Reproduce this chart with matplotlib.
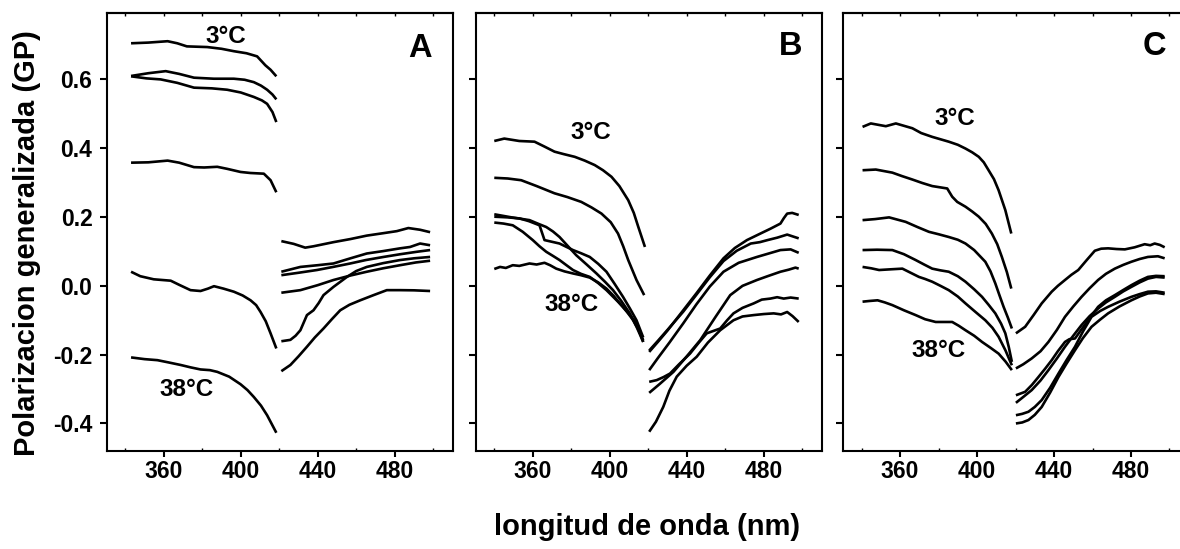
import matplotlib.pyplot as plt
import numpy as np

plt.rcParams['font.family'] = ['Liberation Sans', 'DejaVu Sans']
plt.rcParams['font.weight'] = 'bold'
plt.rcParams['axes.unicode_minus'] = False

# ---- datos (nm, GP) ----
# Panel A, 340-418 nm
A_l1_x = [343, 352, 362, 367, 372, 382.6, 390, 396.4, 403, 408.5, 412.8, 415.5, 418.5]
A_l1_y = [0.705, 0.707, 0.711, 0.705, 0.696, 0.694, 0.689, 0.682, 0.676, 0.667, 0.641, 0.628, 0.609]
A_l2_x = [343, 352, 361.0, 368, 375.7, 386, 396.4, 402, 406.8, 410.5, 413.7, 416.5, 418.5]
A_l2_y = [0.610, 0.618, 0.624, 0.616, 0.605, 0.602, 0.602, 0.599, 0.592, 0.582, 0.570, 0.556, 0.542]
A_l3_x = [343, 351, 358.4, 367, 375.7, 385, 392.9, 400, 406.8, 411, 413.7, 416.5, 418.5]
A_l3_y = [0.609, 0.603, 0.600, 0.590, 0.576, 0.574, 0.570, 0.562, 0.549, 0.539, 0.529, 0.505, 0.476]
A_l4_x = [343, 352, 362, 368, 375.7, 381, 387.8, 393, 399.9, 405, 412.0, 415.5, 418.5]
A_l4_y = [0.358, 0.359, 0.364, 0.358, 0.345, 0.344, 0.346, 0.340, 0.331, 0.328, 0.326, 0.307, 0.272]
A_l5_x = [343, 347.8, 354.8, 363.6, 368, 373.9, 379.1, 383, 386.1, 391, 396.4, 401, 405.1, 408, 410.3, 413, 415.5, 418.5]
A_l5_y = [0.041, 0.028, 0.019, 0.015, 0.003, -0.0125, -0.015, -0.008, -0.001, -0.008, -0.017, -0.028, -0.042, -0.056, -0.076, -0.103, -0.138, -0.182]
A_l6_x = [343, 350, 356.7, 362, 368.8, 374, 379.1, 384, 387.8, 394, 399.9, 403.5, 406.8, 410.5, 413.7, 418.5]
A_l6_y = [-0.208, -0.213, -0.216, -0.222, -0.230, -0.237, -0.243, -0.245, -0.250, -0.264, -0.286, -0.303, -0.323, -0.348, -0.376, -0.427]
# Panel A, 420-500 nm
A_r1_x = [421.1, 427.5, 433.5, 437.8, 448.2, 457, 465.5, 474, 481.1, 487.1, 493.2, 498.4]
A_r1_y = [0.130, 0.122, 0.111, 0.115, 0.127, 0.136, 0.146, 0.153, 0.159, 0.168, 0.163, 0.156]
A_r2_x = [421.1, 431.0, 440, 448.2, 457, 465.5, 474, 482.8, 488, 493.2, 498.4]
A_r2_y = [0.041, 0.055, 0.060, 0.065, 0.080, 0.094, 0.101, 0.109, 0.113, 0.123, 0.118]
A_r3_x = [421.1, 430, 439.6, 448, 456.9, 465, 474.2, 483, 491.5, 498.4]
A_r3_y = [0.031, 0.038, 0.046, 0.055, 0.065, 0.075, 0.084, 0.092, 0.099, 0.104]
A_r4_x = [421.1, 425.8, 428.5, 431.0, 434.4, 437.8, 440.5, 443.0, 448.2, 455.2, 460, 465.5, 474, 482.8, 490, 498.4]
A_r4_y = [-0.161, -0.157, -0.145, -0.129, -0.085, -0.071, -0.050, -0.027, -0.003, 0.026, 0.043, 0.055, 0.066, 0.075, 0.080, 0.084]
A_r5_x = [421.1, 431.0, 440, 448.2, 457, 465.5, 474, 482.8, 491, 498.4]
A_r5_y = [-0.020, -0.0125, 0.002, 0.017, 0.030, 0.041, 0.051, 0.060, 0.068, 0.073]
A_r6_x = [421.1, 425.8, 430, 434.4, 438.5, 443.0, 447.5, 451.7, 456.5, 462.1, 469, 475.9, 482.8, 490, 498.4]
A_r6_y = [-0.248, -0.230, -0.205, -0.177, -0.150, -0.124, -0.096, -0.071, -0.055, -0.042, -0.027, -0.0125, -0.0125, -0.013, -0.015]

# Panel B, 340-418 nm
B_l1_x = [340, 345.2, 353, 360.9, 366, 371.3, 376, 381.8, 387, 392.2, 396.5, 400.9, 405, 409.6, 412.5, 414.8, 418.3]
B_l1_y = [0.421, 0.428, 0.421, 0.419, 0.405, 0.390, 0.383, 0.375, 0.364, 0.351, 0.336, 0.317, 0.290, 0.249, 0.212, 0.172, 0.113]
B_l2_x = [340, 347, 354.0, 362, 371.3, 378, 385.2, 390.5, 395.7, 400.5, 404.3, 407, 409.6, 413.9, 417.9]
B_l2_y = [0.314, 0.312, 0.307, 0.290, 0.269, 0.258, 0.244, 0.228, 0.210, 0.185, 0.152, 0.115, 0.075, 0.017, -0.027]
B_l3_x = [340, 349, 358.3, 363, 367.0, 370.5, 373.9, 378, 382.6, 388, 393.1, 397.5, 401.7, 406, 410.4, 414, 417.4]
B_l3_y = [0.208, 0.199, 0.191, 0.180, 0.171, 0.158, 0.142, 0.117, 0.089, 0.062, 0.036, 0.012, -0.0125, -0.044, -0.080, -0.120, -0.163]
B_l4_x = [340, 347, 353.1, 358, 363.5, 366.1, 370, 373.9, 380.9, 385, 389.6, 394, 398.3, 402.5, 406.9, 410.5, 413.9, 417.4]
B_l4_y = [0.201, 0.199, 0.196, 0.188, 0.176, 0.133, 0.128, 0.123, 0.104, 0.095, 0.084, 0.064, 0.041, 0.006, -0.032, -0.066, -0.100, -0.150]
B_l5_x = [340, 344.8, 349.6, 354.8, 360, 363.5, 367.0, 370.5, 373.9, 377.5, 380.9, 385, 389.6, 394, 398.3, 402.5, 406.9, 410.5, 413.9, 417.4]
B_l5_y = [0.184, 0.181, 0.176, 0.157, 0.133, 0.115, 0.099, 0.087, 0.075, 0.060, 0.046, 0.035, 0.026, 0.008, -0.0125, -0.036, -0.061, -0.085, -0.109, -0.163]
B_l6_x = [340, 343, 346, 349.6, 353, 358.3, 362, 366.1, 369, 372.2, 376.5, 380.9, 385, 389.6, 394, 398.3, 402, 405.2, 409, 412.2, 415, 417.4]
B_l6_y = [0.049, 0.055, 0.052, 0.060, 0.058, 0.065, 0.062, 0.067, 0.060, 0.050, 0.042, 0.036, 0.031, 0.024, 0.010, -0.008, -0.029, -0.051, -0.076, -0.100, -0.128, -0.158]
# Panel B, 420-500 nm
B_r1_x = [420.5, 425, 430, 438.2, 445, 452, 459.1, 465, 471.3, 478.3, 483.5, 488.7, 490.5, 492.2, 494.8, 498.2]
B_r1_y = [-0.192, -0.163, -0.130, -0.071, -0.022, 0.030, 0.080, 0.110, 0.133, 0.152, 0.166, 0.181, 0.197, 0.210, 0.212, 0.206]
B_r2_x = [420.5, 425, 430, 438.2, 445, 452, 459.1, 466, 473.3, 478, 482.0, 487, 492.2, 498.2]
B_r2_y = [-0.188, -0.160, -0.128, -0.075, -0.026, 0.025, 0.072, 0.102, 0.123, 0.127, 0.133, 0.140, 0.149, 0.138]
B_r3_x = [420.5, 425, 431, 438.2, 445, 452, 459.1, 467, 476.5, 482, 488.7, 494, 498.2]
B_r3_y = [-0.245, -0.210, -0.165, -0.109, -0.054, -0.002, 0.041, 0.067, 0.084, 0.093, 0.104, 0.106, 0.096]
B_r4_x = [420.5, 424.4, 428, 431.3, 436, 441.7, 446, 450.4, 457.4, 461, 464.3, 469, 474.8, 479, 483.5, 487, 490.4, 494, 498.2]
B_r4_y = [-0.279, -0.274, -0.265, -0.255, -0.228, -0.197, -0.167, -0.138, -0.124, -0.100, -0.080, -0.064, -0.051, -0.040, -0.037, -0.033, -0.037, -0.034, -0.037]
B_r5_x = [420.5, 426, 433.1, 440, 447.0, 455, 462.6, 469, 476.5, 482, 488.7, 493, 496.5, 498.2]
B_r5_y = [-0.311, -0.285, -0.250, -0.205, -0.158, -0.090, -0.027, 0.000, 0.017, 0.028, 0.041, 0.047, 0.053, 0.050]
B_r6_x = [420.5, 424, 427.8, 431, 434.8, 440, 445.2, 451, 457.4, 464.3, 469, 474.8, 480, 485.2, 489, 492.2, 495, 498.2]
B_r6_y = [-0.424, -0.395, -0.352, -0.305, -0.264, -0.232, -0.206, -0.165, -0.129, -0.100, -0.089, -0.085, -0.082, -0.080, -0.083, -0.076, -0.088, -0.105]

# Panel C, 340-418 nm
C_l1_x = [340.5, 344.8, 352.6, 357.8, 366.4, 371, 376.7, 385.3, 390, 394.0, 397.5, 400.9, 403.5, 406.0, 408.8, 411.2, 414.7, 417.8]
C_l1_y = [0.462, 0.472, 0.464, 0.472, 0.458, 0.444, 0.433, 0.419, 0.410, 0.399, 0.388, 0.375, 0.359, 0.336, 0.310, 0.278, 0.220, 0.152]
C_l2_x = [340.5, 347.4, 356.0, 361, 366.4, 371.5, 376.7, 384.5, 387.1, 389.7, 394.0, 397.5, 400.9, 404.5, 407.7, 410.5, 412.9, 415.5, 417.8]
C_l2_y = [0.336, 0.338, 0.329, 0.319, 0.309, 0.299, 0.290, 0.283, 0.259, 0.244, 0.230, 0.216, 0.201, 0.180, 0.152, 0.121, 0.084, 0.040, -0.008]
C_l3_x = [340.5, 347, 354.3, 362.9, 369, 375.0, 380, 385.3, 390, 394.0, 398.5, 402.6, 404.3, 407, 409.5, 411.5, 413.8, 416, 418.1]
C_l3_y = [0.191, 0.194, 0.199, 0.186, 0.171, 0.157, 0.150, 0.142, 0.134, 0.123, 0.104, 0.080, 0.070, 0.042, 0.007, -0.025, -0.061, -0.092, -0.124]
C_l4_x = [340.5, 348, 356.0, 362, 368.1, 372.5, 376.7, 381, 385.3, 390, 394.0, 398.5, 402.6, 406, 409.5, 412.5, 414.7, 416.5, 418.1]
C_l4_y = [0.104, 0.105, 0.104, 0.092, 0.075, 0.062, 0.050, 0.045, 0.041, 0.028, 0.012, -0.010, -0.032, -0.055, -0.080, -0.110, -0.138, -0.178, -0.221]
C_l5_x = [340.5, 345, 349.1, 355, 361.2, 365.5, 369.8, 373, 376.7, 381, 385.3, 390, 394.0, 399, 404.3, 408, 411.2, 414.8, 418.1]
C_l5_y = [0.055, 0.051, 0.046, 0.048, 0.050, 0.038, 0.026, 0.020, 0.012, 0.000, -0.0125, -0.031, -0.051, -0.075, -0.100, -0.122, -0.148, -0.188, -0.231]
C_l6_x = [340.5, 344, 348.3, 352, 356.0, 362, 368.1, 373, 378.5, 383, 387.1, 390.5, 394.0, 398.5, 402.6, 407, 411.2, 414.8, 418.1]
C_l6_y = [-0.046, -0.044, -0.042, -0.048, -0.056, -0.071, -0.085, -0.097, -0.105, -0.105, -0.105, -0.116, -0.129, -0.145, -0.163, -0.180, -0.197, -0.220, -0.245]
# Panel C, 420-500 nm
C_r1_x = [420.2, 425.0, 429.5, 433.6, 438.8, 442, 445.7, 449, 452.6, 457, 461.2, 464.5, 468.1, 472.5, 476.8, 481.9, 487.1, 490, 492.3, 495, 497.5]
C_r1_y = [-0.138, -0.119, -0.084, -0.051, -0.017, 0.000, 0.017, 0.032, 0.046, 0.075, 0.102, 0.108, 0.109, 0.107, 0.106, 0.112, 0.121, 0.118, 0.123, 0.119, 0.112]
C_r2_x = [420.2, 424, 428.4, 433, 437.1, 441.5, 445.7, 450, 454.3, 458.5, 462.9, 467, 471.6, 476, 480.2, 484.5, 488.8, 494.0, 497.5]
C_r2_y = [-0.240, -0.228, -0.211, -0.190, -0.163, -0.128, -0.090, -0.060, -0.032, -0.007, 0.017, 0.035, 0.050, 0.061, 0.070, 0.078, 0.084, 0.086, 0.080]
C_r3_x = [420.2, 425.0, 428.5, 431.9, 435.5, 438.8, 442, 445.7, 448, 450.9, 454.5, 457.8, 462.9, 467, 471.6, 476, 480.2, 484.5, 488.8, 493, 497.5]
C_r3_y = [-0.318, -0.308, -0.288, -0.265, -0.240, -0.216, -0.190, -0.163, -0.155, -0.153, -0.125, -0.100, -0.061, -0.042, -0.027, -0.012, 0.002, 0.015, 0.026, 0.029, 0.028]
C_r4_x = [420.2, 424, 428.4, 433, 437.1, 441.5, 445.7, 450, 454.3, 458.5, 462.9, 467, 471.6, 476, 480.2, 484.5, 488.8, 493, 497.5]
C_r4_y = [-0.340, -0.323, -0.303, -0.275, -0.245, -0.211, -0.177, -0.145, -0.114, -0.088, -0.066, -0.048, -0.032, -0.016, -0.003, 0.010, 0.021, 0.026, 0.024]
C_r5_x = [420.2, 423.5, 426.7, 430, 433.6, 438, 442.3, 446.5, 450.9, 455, 459.5, 464, 468.1, 474, 480.2, 484.5, 488.8, 493, 497.5]
C_r5_y = [-0.376, -0.372, -0.366, -0.352, -0.332, -0.296, -0.255, -0.216, -0.177, -0.133, -0.090, -0.073, -0.061, -0.046, -0.032, -0.024, -0.017, -0.016, -0.020]
C_r6_x = [420.2, 423.5, 426.7, 430, 433.6, 438, 442.3, 446.5, 450.9, 455, 459.5, 464, 468.1, 474, 480.2, 484.5, 488.8, 493, 497.5]
C_r6_y = [-0.400, -0.397, -0.390, -0.375, -0.352, -0.310, -0.265, -0.226, -0.187, -0.152, -0.119, -0.098, -0.080, -0.060, -0.042, -0.031, -0.022, -0.020, -0.024]

letras = ['A', 'B', 'C']
etiq_3 = '3°C'
etiq_38 = '38°C'
# posicion (nm, GP) de las etiquetas de temperatura y de la letra
pos_3 = [(392.5, 0.7055), (390.3, 0.426), (388.6, 0.467)]
pos_38 = [(371.8, -0.321), (380.2, -0.073), (379.9, -0.208)]
pos_letra = [(493.2, 0.665), (493.9, 0.671), (492.1, 0.671)]

yticks = [-0.4, -0.2, 0.0, 0.2, 0.4, 0.6]
xticks = [360, 400, 440, 480]

paneles = {
    'A': [(A_l1_x, A_l1_y), (A_l2_x, A_l2_y), (A_l3_x, A_l3_y), (A_l4_x, A_l4_y),
          (A_l5_x, A_l5_y), (A_l6_x, A_l6_y), (A_r1_x, A_r1_y), (A_r2_x, A_r2_y),
          (A_r3_x, A_r3_y), (A_r4_x, A_r4_y), (A_r5_x, A_r5_y), (A_r6_x, A_r6_y)],
    'B': [(B_l1_x, B_l1_y), (B_l2_x, B_l2_y), (B_l3_x, B_l3_y), (B_l4_x, B_l4_y),
          (B_l5_x, B_l5_y), (B_l6_x, B_l6_y), (B_r1_x, B_r1_y), (B_r2_x, B_r2_y),
          (B_r3_x, B_r3_y), (B_r4_x, B_r4_y), (B_r5_x, B_r5_y), (B_r6_x, B_r6_y)],
    'C': [(C_l1_x, C_l1_y), (C_l2_x, C_l2_y), (C_l3_x, C_l3_y), (C_l4_x, C_l4_y),
          (C_l5_x, C_l5_y), (C_l6_x, C_l6_y), (C_r1_x, C_r1_y), (C_r2_x, C_r2_y),
          (C_r3_x, C_r3_y), (C_r4_x, C_r4_y), (C_r5_x, C_r5_y), (C_r6_x, C_r6_y)],
}

fig = plt.figure(figsize=(11.8, 5.49), dpi=100)

# el panel C queda cortado por el borde derecho, como en el original
lefts = [107 / 1180, 476 / 1180, 843.3 / 1180]
ancho = 346 / 1180
abajo = 98 / 549
alto = 438 / 549

for i, letra in enumerate(letras):
    ax = fig.add_axes([lefts[i], abajo, ancho, alto])
    for x, y in paneles[letra]:
        ax.plot(x, y, color='black', lw=1.9, solid_joinstyle='round',
                solid_capstyle='butt')

    ax.set_xlim(330.5, 510.3)
    ax.set_ylim(-0.48, 0.793)
    for s in ax.spines.values():
        s.set_linewidth(1.5)

    ax.set_xticks(xticks)
    ax.set_xticks(np.arange(340, 510, 40), minor=True)
    ax.set_yticks(yticks)
    ax.tick_params(axis='x', which='major', direction='out', length=4.5, width=1.5,
                   pad=2, labelsize=16.5)
    ax.tick_params(axis='x', which='minor', direction='in', length=2, width=1)
    ax.tick_params(axis='y', which='major', direction='out', length=5, width=1.5,
                   pad=5.5, labelsize=16.5)
    if i == 0:
        ax.set_yticklabels(['%.1f' % v for v in yticks])
    else:
        ax.set_yticklabels([])

    top = ax.secondary_xaxis('top')
    top.set_xticks(np.arange(340, 510, 20))
    top.tick_params(direction='in', length=2.5, width=1, labeltop=False)
    top.spines['top'].set_linewidth(1.5)

    ax.text(pos_3[i][0], pos_3[i][1], etiq_3, ha='center', va='baseline',
            fontsize=17.5, fontweight='bold')
    ax.text(pos_38[i][0], pos_38[i][1], etiq_38, ha='center', va='baseline',
            fontsize=17.5, fontweight='bold')
    ax.text(pos_letra[i][0], pos_letra[i][1], letra, ha='center', va='baseline',
            fontsize=23.5, fontweight='bold')

fig.text(35 / 1180, (549 - 243.5) / 549, 'Polarizacion generalizada (GP)',
         rotation=90, rotation_mode='anchor', ha='center', va='baseline',
         fontsize=21, fontweight='bold')
fig.text(646.7 / 1180, 14 / 549, 'longitud de onda (nm)', ha='center', va='baseline',
         fontsize=21, fontweight='bold')

fig.savefig('out.png', dpi=100)
